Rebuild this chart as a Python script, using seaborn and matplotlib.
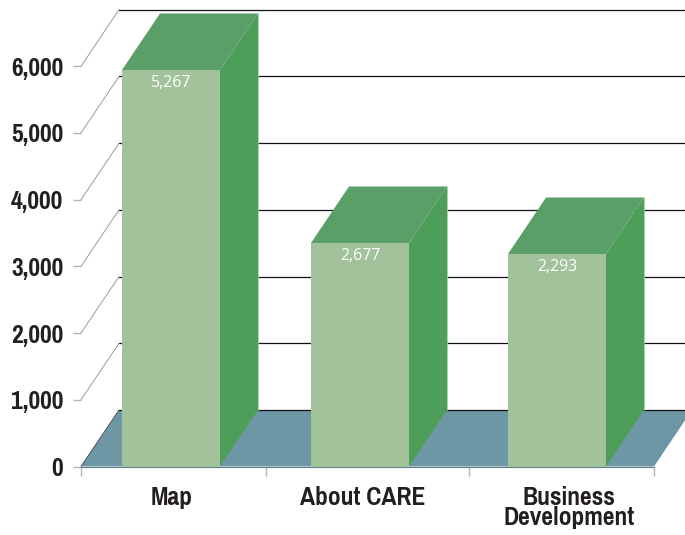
import matplotlib
matplotlib.use('Agg')
import matplotlib.pyplot as plt
from matplotlib.patches import Polygon
import pandas as pd
import seaborn as sns

# Data
categories = ['Map', 'About CARE', 'Business\nDevelopment']
bar_heights = [5945, 3351, 3186]  # height of the front face against the axis
bar_labels = ['5,267', '2,677', '2,293']
y_ticks = [0, 1000, 2000, 3000, 4000, 5000, 6000]
y_tick_labels = ['0', '1,000', '2,000', '3,000', '4,000', '5,000', '6,000']

# Layout, all worked out in pixels of the 685x535 picture
W, H = 685, 535
LEFT, RIGHT, BASE, TOP = 81, 654, 466.5, 10
PX_PER_CAT = 193.0
PX_PER_UNIT = 66.7 / 1000
X0 = 171  # pixel of category 0

def cx(px):
    return (px - X0) / PX_PER_CAT

DX = 38 / PX_PER_CAT  # depth of the fake 3d
DY = 56.5 / PX_PER_UNIT

FRONT = '#A2C29B'
SIDE = '#4D9E58'
ROOF = '#5A9F68'
FLOOR = '#6E97A5'
TICK = '#B4B4B4'

sns.set_theme(style='white')
plt.rcParams['font.family'] = ['Pragati Narrow', 'Liberation Sans', 'DejaVu Sans']

fig = plt.figure(figsize=(W / 100, H / 100), dpi=100, facecolor='white')
ax = fig.add_axes([LEFT / W, (H - BASE) / H, (RIGHT - LEFT) / W, (BASE - TOP) / H])

df = pd.DataFrame({'page': categories, 'height': bar_heights})
sns.barplot(data=df, x='page', y='height', color=FRONT, saturation=1, width=98 / PX_PER_CAT,
            linewidth=0, ax=ax, zorder=5)
ax.set_xlim(cx(LEFT), cx(RIGHT))
ax.set_ylim(0, (BASE - TOP) / PX_PER_UNIT)
sns.despine(ax=ax, left=True, bottom=True)
ax.set_xlabel('')
ax.set_ylabel('')

# second bar sits a little left of the even spacing
ax.patches[1].set_x(ax.patches[1].get_x() - 4 / PX_PER_CAT)

# floor and back wall
ax.add_patch(Polygon([(cx(LEFT), 0), (cx(LEFT) + DX, DY), (cx(RIGHT) + DX, DY), (cx(RIGHT), 0)],
                     facecolor=FLOOR, edgecolor='none', zorder=1, clip_on=False))
ax.plot([cx(LEFT), cx(RIGHT)], [0, 0], color='#5F7F8A', lw=0.8, zorder=2, clip_on=False)
for v in y_ticks:
    ax.plot([cx(LEFT) + DX, cx(RIGHT) + DX], [v + DY, v + DY], color='#111111', lw=0.9, zorder=2, clip_on=False)
    ax.plot([cx(LEFT), cx(LEFT) + DX], [v, v + DY], color='#8C8C8C' if v else '#444444', lw=0.6, zorder=2, clip_on=False)

# side and roof of each bar, taken from the bars seaborn drew
for bar, txt in zip(ax.patches[:3], bar_labels):
    x0 = bar.get_x()
    x1 = x0 + bar.get_width()
    h = bar.get_height()
    ax.add_patch(Polygon([(x1, 0), (x1 + DX, DY), (x1 + DX, h + DY), (x1, h)],
                         facecolor=SIDE, edgecolor='none', zorder=4, clip_on=False))
    ax.add_patch(Polygon([(x0, h), (x0 + DX, h + DY), (x1 + DX, h + DY), (x1, h)],
                         facecolor=ROOF, edgecolor='none', zorder=4, clip_on=False))
    ax.plot([x1 + DX, x1 + DX], [DY, h + DY], color='#9CCB9F', lw=0.6, zorder=4, clip_on=False)
    ax.text(x0 + bar.get_width() / 2, h - 13 / PX_PER_UNIT, txt, color='white', ha='center', va='center',
            fontsize=11.4, family=['Open Sans', 'DejaVu Sans'], zorder=6)

ax.set_yticks(y_ticks, labels=y_tick_labels)
ax.tick_params(axis='y', length=5.8, width=1, color=TICK, pad=7, labelsize=20, labelcolor='#231F20', left=True)

# label anchors do not sit exactly under the bars in the original
ax.set_xticks([cx(172), cx(363), cx(569)], labels=categories)
ax.tick_params(axis='x', which='major', length=0, pad=14, labelsize=20, labelcolor='#231F20')
for lab in ax.get_yticklabels() + ax.get_xticklabels():
    lab.set_fontweight('bold')
    lab.set_linespacing(0.84)
ax.set_xticks([cx(LEFT), cx(266), cx(469), cx(RIGHT)], minor=True)
ax.tick_params(axis='x', which='minor', length=6.5, width=1, color=TICK, bottom=True)

fig.savefig('out.png', dpi=100)
